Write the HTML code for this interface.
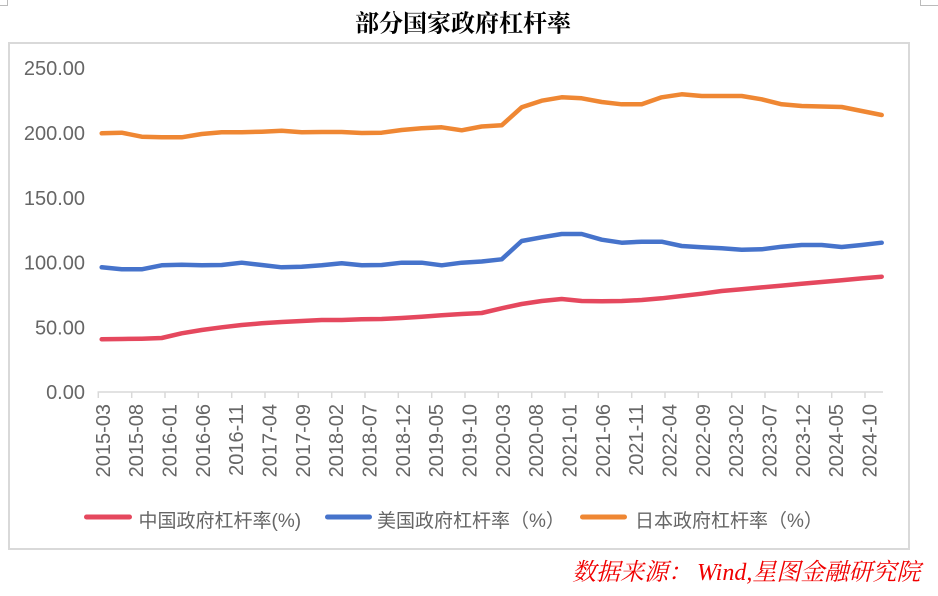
<!DOCTYPE html>
<html><head><meta charset="utf-8"><style>
html,body{margin:0;padding:0;background:#fff;}
svg{display:block;}
</style></head><body>
<svg width="938" height="596" viewBox="0 0 938 596" xmlns="http://www.w3.org/2000/svg">
<rect x="0" y="0" width="938" height="596" fill="#fff"/>
<!-- crop marks -->
<path d="M0 5.5H7.5V0" fill="none" stroke="#bbb" stroke-width="1"/>
<path d="M938 5.5H920.5V0" fill="none" stroke="#bbb" stroke-width="1"/>
<!-- title -->
<text x="463" y="31.5" text-anchor="middle" font-family="'Noto Serif CJK SC','Noto Sans CJK SC',serif" font-size="24" font-weight="bold" fill="#000">部分国家政府杠杆率</text>
<!-- frame -->
<rect x="9" y="43" width="900" height="506" fill="none" stroke="#d9d9d9" stroke-width="2"/>
<!-- y labels -->
<g font-family="'Liberation Sans',sans-serif" font-size="20" fill="#666" text-anchor="end">
<text x="85" y="75.2">250.00</text>
<text x="85" y="140">200.00</text>
<text x="85" y="204.8">150.00</text>
<text x="85" y="269.6">100.00</text>
<text x="85" y="334.4">50.00</text>
<text x="85" y="399.2">0.00</text>
</g>
<!-- x axis -->
<line x1="97.5" y1="392" x2="883" y2="392" stroke="#d9d9d9" stroke-width="1.5"/>
<g stroke="#d9d9d9" stroke-width="1.5">
<line x1="98.3" y1="392" x2="98.3" y2="398"/><line x1="131.7" y1="392" x2="131.7" y2="398"/><line x1="165" y1="392" x2="165" y2="398"/><line x1="198.3" y1="392" x2="198.3" y2="398"/><line x1="231.7" y1="392" x2="231.7" y2="398"/><line x1="265" y1="392" x2="265" y2="398"/><line x1="298.3" y1="392" x2="298.3" y2="398"/><line x1="331.7" y1="392" x2="331.7" y2="398"/><line x1="365" y1="392" x2="365" y2="398"/><line x1="398.3" y1="392" x2="398.3" y2="398"/><line x1="431.7" y1="392" x2="431.7" y2="398"/><line x1="465" y1="392" x2="465" y2="398"/><line x1="498.3" y1="392" x2="498.3" y2="398"/><line x1="531.7" y1="392" x2="531.7" y2="398"/><line x1="565" y1="392" x2="565" y2="398"/><line x1="598.3" y1="392" x2="598.3" y2="398"/><line x1="631.7" y1="392" x2="631.7" y2="398"/><line x1="665" y1="392" x2="665" y2="398"/><line x1="698.3" y1="392" x2="698.3" y2="398"/><line x1="731.7" y1="392" x2="731.7" y2="398"/><line x1="765" y1="392" x2="765" y2="398"/><line x1="798.3" y1="392" x2="798.3" y2="398"/><line x1="831.7" y1="392" x2="831.7" y2="398"/><line x1="865" y1="392" x2="865" y2="398"/>
</g>
<g font-family="'Liberation Sans',sans-serif" font-size="20" fill="#666" text-anchor="end">
<text transform="translate(109.8,404) rotate(-90)">2015-03</text>
<text transform="translate(143.2,404) rotate(-90)">2015-08</text>
<text transform="translate(176.5,404) rotate(-90)">2016-01</text>
<text transform="translate(209.8,404) rotate(-90)">2016-06</text>
<text transform="translate(243.2,404) rotate(-90)">2016-11</text>
<text transform="translate(276.5,404) rotate(-90)">2017-04</text>
<text transform="translate(309.8,404) rotate(-90)">2017-09</text>
<text transform="translate(343.2,404) rotate(-90)">2018-02</text>
<text transform="translate(376.5,404) rotate(-90)">2018-07</text>
<text transform="translate(409.8,404) rotate(-90)">2018-12</text>
<text transform="translate(443.2,404) rotate(-90)">2019-05</text>
<text transform="translate(476.5,404) rotate(-90)">2019-10</text>
<text transform="translate(509.8,404) rotate(-90)">2020-03</text>
<text transform="translate(543.2,404) rotate(-90)">2020-08</text>
<text transform="translate(576.5,404) rotate(-90)">2021-01</text>
<text transform="translate(609.8,404) rotate(-90)">2021-06</text>
<text transform="translate(643.2,404) rotate(-90)">2021-11</text>
<text transform="translate(676.5,404) rotate(-90)">2022-04</text>
<text transform="translate(709.8,404) rotate(-90)">2022-09</text>
<text transform="translate(743.2,404) rotate(-90)">2023-02</text>
<text transform="translate(776.5,404) rotate(-90)">2023-07</text>
<text transform="translate(809.8,404) rotate(-90)">2023-12</text>
<text transform="translate(843.2,404) rotate(-90)">2024-05</text>
<text transform="translate(876.5,404) rotate(-90)">2024-10</text>
</g>
<!-- series -->
<g fill="none" stroke-width="4.5" stroke-linejoin="round" stroke-linecap="round">
<polyline stroke="#EF8733" points="101.7,133.3 121.7,132.7 141.7,136.7 161.7,137.3 181.7,137.3 201.7,134 221.7,132.3 241.7,132.3 261.7,131.7 281.7,130.7 301.7,132.3 321.7,132 341.7,132 361.7,133 381.7,132.7 401.7,130 421.7,128.3 441.7,127.3 461.7,130.3 481.7,126.5 501.7,125.3 521.7,107.3 541.7,100.7 561.7,97.3 581.7,98.3 601.7,102 621.7,104.3 641.7,104.3 661.7,97.3 681.7,94.3 701.7,96 721.7,96 741.7,96 761.7,99.3 781.7,104.3 801.7,106 821.7,106.5 841.7,107 861.7,111 881.7,115"/>
<polyline stroke="#4673CB" points="101.7,267.3 121.7,269.3 141.7,269.3 161.7,265.3 181.7,264.7 201.7,265.3 221.7,265 241.7,262.7 261.7,265 281.7,267.3 301.7,266.7 321.7,265.3 341.7,263.3 361.7,265.3 381.7,265 401.7,262.7 421.7,262.7 441.7,265.3 461.7,262.7 481.7,261.5 501.7,259.3 521.7,241 541.7,237.3 561.7,234 581.7,234 601.7,239.7 621.7,242.7 641.7,241.7 661.7,241.7 681.7,246 701.7,247.3 721.7,248.3 741.7,249.7 761.7,249.3 781.7,246.7 801.7,245 821.7,245 841.7,247 861.7,245 881.7,242.7"/>
<polyline stroke="#E5485E" points="101.7,339.3 121.7,339 141.7,338.7 161.7,338 181.7,333.3 201.7,330 221.7,327.3 241.7,325 261.7,323.3 281.7,322 301.7,321 321.7,320 341.7,320 361.7,319.3 381.7,319 401.7,318 421.7,316.7 441.7,315.3 461.7,314 481.7,313 501.7,308.3 521.7,304 541.7,301 561.7,299 581.7,301 601.7,301.3 621.7,301 641.7,300 661.7,298.3 681.7,296 701.7,293.7 721.7,291 741.7,289.2 761.7,287.4 781.7,285.6 801.7,283.8 821.7,282 841.7,280.2 861.7,278.4 881.7,276.7"/>
</g>
<!-- legend -->
<g stroke-width="5" stroke-linecap="round">
<line x1="86.5" y1="517" x2="129.5" y2="517" stroke="#E5485E"/>
<line x1="327.5" y1="517" x2="369.5" y2="517" stroke="#4673CB"/>
<line x1="582.5" y1="517" x2="624.5" y2="517" stroke="#EF8733"/>
</g>
<g font-family="'Liberation Sans','Noto Sans CJK SC',sans-serif" font-size="19" fill="#666">
<text x="138.5" y="527">中国政府杠杆率(%)</text>
<text x="377" y="527">美国政府杠杆率（%）</text>
<text x="635" y="527">日本政府杠杆率（%）</text>
</g>
<!-- source -->
<g font-family="'Liberation Serif','Noto Serif CJK SC',serif" font-size="24" font-style="italic" fill="#F00000">
<text x="572" y="580">数据来源：</text>
<text x="697" y="580">Wind,星图金融研究院</text>
</g>
</svg>
</body></html>
